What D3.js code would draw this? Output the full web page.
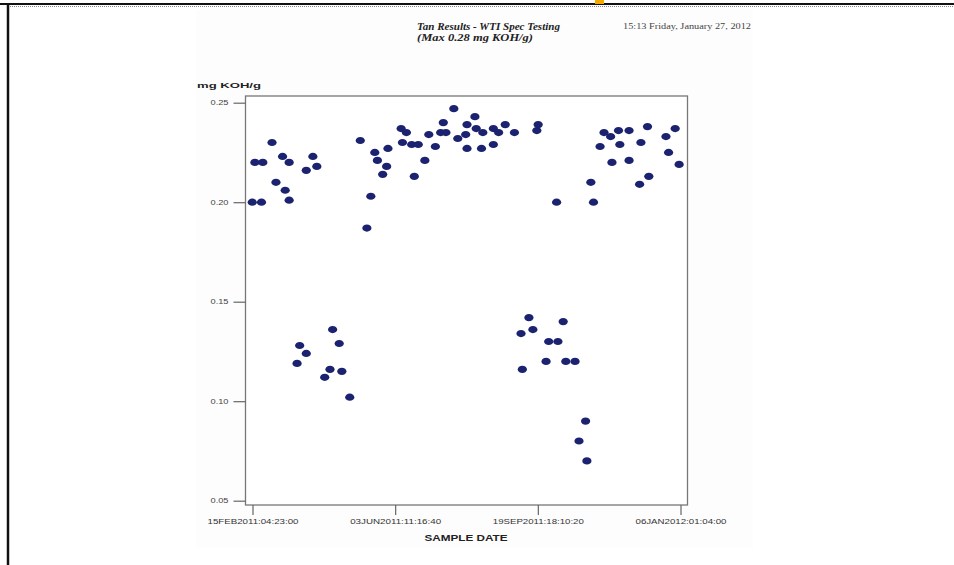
<!DOCTYPE html>
<html lang="en">
<head>
    <meta charset="UTF-8">
    <title>Tan Results - WTI Spec Testing</title>
    <script src="https://cdn.jsdelivr.net/npm/d3@7"></script>
    <style>
        body {
            margin: 0;
            padding: 0;
            background: #ffffff;
        }

        #chart {
            display: block;
        }

        .sans {
            font-family: "Liberation Sans", Arial, sans-serif;
        }

        .serif {
            font-family: "Liberation Serif", "Times New Roman", serif;
        }
    </style>
</head>
<body>
    <svg id="chart" width="954" height="565"></svg>

    <script>
        // sample dates and TAN values
        const sampleDates = [
            "2011-02-15", "2011-02-22", "2011-02-17", "2011-02-23", "2011-03-02",
            "2011-03-05", "2011-03-10", "2011-03-12", "2011-03-15", "2011-03-15",
            "2011-03-28", "2011-04-02", "2011-04-05",
            "2011-03-21", "2011-03-23", "2011-03-28", "2011-04-11", "2011-04-15",
            "2011-04-17", "2011-04-22", "2011-04-24", "2011-04-30",
            "2011-05-08", "2011-05-13", "2011-05-16", "2011-05-19", "2011-05-21",
            "2011-05-25", "2011-05-28", "2011-05-29", "2011-06-08", "2011-06-09",
            "2011-06-12", "2011-06-16", "2011-06-18", "2011-06-21", "2011-06-26",
            "2011-06-29", "2011-07-04", "2011-07-08", "2011-07-10", "2011-07-12",
            "2011-07-18", "2011-07-21", "2011-07-27", "2011-07-28", "2011-07-28",
            "2011-08-03", "2011-08-04", "2011-08-09", "2011-08-08", "2011-08-17",
            "2011-08-21", "2011-08-26", "2011-08-17", "2011-09-02", "2011-09-19",
            "2011-09-20",
            "2011-09-08", "2011-09-07", "2011-09-13", "2011-09-16", "2011-09-26",
            "2011-09-28", "2011-10-05", "2011-10-04", "2011-10-09", "2011-10-11",
            "2011-10-18", "2011-10-21", "2011-10-26", "2011-10-27",
            "2011-10-30", "2011-11-01", "2011-11-06", "2011-11-09", "2011-11-14",
            "2011-11-15", "2011-11-20", "2011-11-21", "2011-11-28", "2011-11-28",
            "2011-12-06", "2011-12-07", "2011-12-12", "2011-12-13", "2011-12-26",
            "2011-12-28", "2012-01-02", "2012-01-05"
        ];

        const tanValues = [
            0.200, 0.200, 0.220, 0.220, 0.230,
            0.210, 0.223, 0.206, 0.220, 0.201,
            0.216, 0.223, 0.218,
            0.119, 0.128, 0.124, 0.112, 0.116,
            0.136, 0.129, 0.115, 0.102,
            0.231, 0.187, 0.203, 0.225, 0.221,
            0.214, 0.218, 0.227, 0.237, 0.230,
            0.235, 0.229, 0.213, 0.229, 0.221,
            0.234, 0.228, 0.235, 0.240, 0.235,
            0.247, 0.232, 0.234, 0.239, 0.227,
            0.243, 0.237, 0.235, 0.227, 0.237,
            0.235, 0.239, 0.229, 0.235, 0.236,
            0.239,
            0.116, 0.134, 0.142, 0.136, 0.120,
            0.130, 0.130, 0.200, 0.140, 0.120,
            0.120, 0.080, 0.090, 0.070,
            0.210, 0.200, 0.228, 0.235, 0.233,
            0.220, 0.236, 0.229, 0.236, 0.221,
            0.209, 0.230, 0.238, 0.213, 0.233,
            0.225, 0.237, 0.219
        ];

        const xTickLabels = [
            "15FEB2011:04:23:00",
            "03JUN2011:11:16:40",
            "19SEP2011:18:10:20",
            "06JAN2012:01:04:00"
        ];

        const yTicks = [0.05, 0.10, 0.15, 0.20, 0.25];

        const titleLines = ["Tan Results - WTI Spec Testing", "(Max 0.28 mg KOH/g)"];
        const runStamp = "15:13 Friday, January 27, 2012";
        const yLabel = "mg KOH/g";
        const xLabel = "SAMPLE DATE";

        const parseDay = d3.timeParse("%Y-%m-%d");
        const parseTick = d3.timeParse("%d%b%Y:%H:%M:%S");
        const formatTick = d3.timeFormat("%d%b%Y:%H:%M:%S");

        const points = sampleDates.map((d, i) => ({ date: parseDay(d), tan: tanValues[i] }));
        const xTickDates = xTickLabels.map(parseTick);

        const svg = d3.select("#chart");

        // page frame from the scanned document
        svg.append("rect")
            .attr("x", 196).attr("y", 10)
            .attr("width", 557).attr("height", 538)
            .attr("fill", "#fdfdfd");
        svg.append("line")
            .attr("x1", 0).attr("x2", 954)
            .attr("y1", 4).attr("y2", 4)
            .attr("stroke", "#111").attr("stroke-width", 2);
        svg.append("line")
            .attr("x1", 8).attr("x2", 954)
            .attr("y1", 6.5).attr("y2", 6.5)
            .attr("stroke", "#888").attr("stroke-width", 1)
            .attr("stroke-dasharray", "1,1");
        svg.append("line")
            .attr("x1", 8).attr("x2", 8)
            .attr("y1", 3).attr("y2", 565)
            .attr("stroke", "#111").attr("stroke-width", 2.5);
        svg.append("rect")
            .attr("x", 595).attr("y", 0)
            .attr("width", 9).attr("height", 4)
            .attr("fill", "#f2a900");

        // plot box
        const box = { left: 245.5, right: 687.5, top: 96, bottom: 505 };

        const x = d3.scaleTime()
            .domain(d3.extent(xTickDates))
            .range([252.5, 680.5]);

        const y = d3.scaleLinear()
            .domain([0.05, 0.25])
            .range([500.7, 102.7]);

        svg.append("rect")
            .attr("x", box.left).attr("y", box.top)
            .attr("width", box.right - box.left)
            .attr("height", box.bottom - box.top)
            .attr("fill", "#ffffff")
            .attr("stroke", "#777")
            .attr("stroke-width", 1.3);

        // axes
        const yAxis = svg.append("g")
            .attr("class", "sans")
            .attr("transform", `translate(${box.left},0)`)
            .call(d3.axisLeft(y).tickValues(yTicks).tickSize(12).tickPadding(5).tickFormat(d3.format(".2f")));
        yAxis.select(".domain").remove();
        yAxis.selectAll(".tick line").attr("stroke", "#666").attr("stroke-width", 1.2);
        yAxis.selectAll(".tick text")
            .attr("fill", "#444")
            .attr("font-size", 7)
            .attr("textLength", 18)
            .attr("lengthAdjust", "spacingAndGlyphs");

        const xAxis = svg.append("g")
            .attr("class", "sans")
            .attr("transform", `translate(0,${box.bottom})`)
            .call(d3.axisBottom(x).tickValues(xTickDates).tickSize(10).tickPadding(4)
                .tickFormat(d => formatTick(d).toUpperCase()));
        xAxis.select(".domain").remove();
        xAxis.selectAll(".tick line").attr("stroke", "#666").attr("stroke-width", 1.2);
        xAxis.selectAll(".tick text")
            .attr("fill", "#333")
            .attr("font-size", 7.5)
            .attr("textLength", 91)
            .attr("lengthAdjust", "spacingAndGlyphs");

        // points
        svg.append("g")
            .selectAll("ellipse")
            .data(points)
            .join("ellipse")
            .attr("cx", d => x(d.date))
            .attr("cy", d => y(d.tan))
            .attr("rx", 4.6)
            .attr("ry", 3.6)
            .attr("fill", "#1b2270");

        // titles and labels
        svg.selectAll(".title")
            .data(titleLines)
            .join("text")
            .attr("class", "title serif")
            .attr("x", 417)
            .attr("y", (d, i) => 30 + i * 11)
            .attr("font-size", 10.5)
            .attr("font-weight", "bold")
            .attr("font-style", "italic")
            .attr("fill", "#222")
            .attr("textLength", (d, i) => i === 0 ? 143 : 116)
            .attr("lengthAdjust", "spacingAndGlyphs")
            .text(d => d);

        svg.append("text")
            .attr("class", "serif")
            .attr("x", 623).attr("y", 28.5)
            .attr("font-size", 7.5)
            .attr("fill", "#444")
            .attr("textLength", 128)
            .attr("lengthAdjust", "spacingAndGlyphs")
            .text(runStamp);

        svg.append("text")
            .attr("class", "sans")
            .attr("x", 197).attr("y", 88)
            .attr("font-size", 8)
            .attr("font-weight", "bold")
            .attr("fill", "#222")
            .attr("textLength", 64)
            .attr("lengthAdjust", "spacingAndGlyphs")
            .text(yLabel);

        svg.append("text")
            .attr("class", "sans")
            .attr("x", 466).attr("y", 541)
            .attr("text-anchor", "middle")
            .attr("font-size", 8.5)
            .attr("font-weight", "bold")
            .attr("fill", "#222")
            .attr("textLength", 83)
            .attr("lengthAdjust", "spacingAndGlyphs")
            .text(xLabel);
    </script>
</body>
</html>
